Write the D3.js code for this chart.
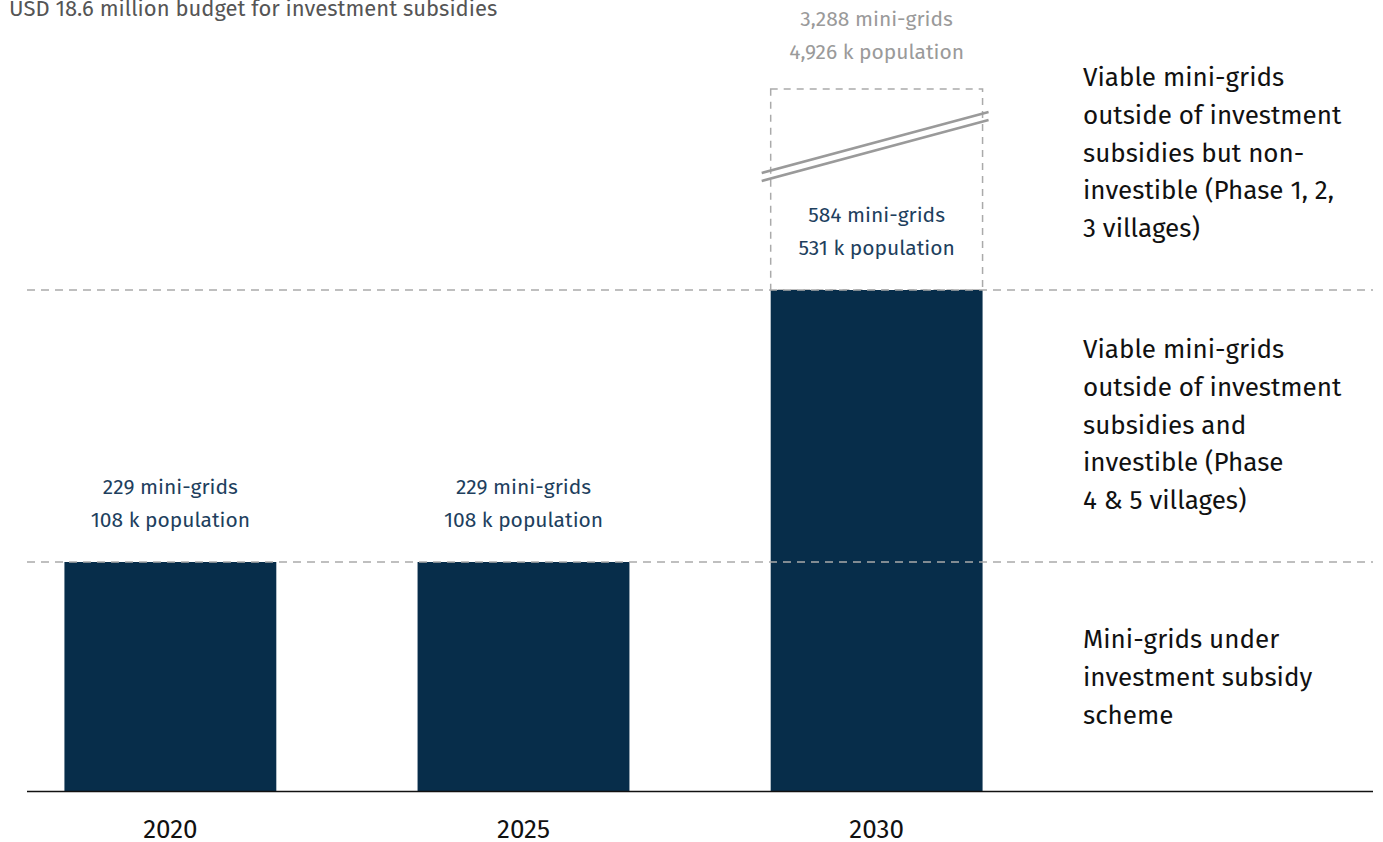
<!DOCTYPE html>
<html lang="en">
<head>
<meta charset="UTF-8">
<title>Mini-grids under investment subsidies</title>
<script src="https://d3js.org/d3.v7.min.js"></script>
<style>
  html, body { margin: 0; padding: 0; background: #fff; }
  svg { display: block; font-family: "Fira Sans", "Noto Sans", sans-serif; }
</style>
</head>
<body>
<svg id="chart" width="1383" height="842"></svg>
<script>
// data
const years = ["2020", "2025", "2030"];
const miniGrids = [229, 229, 584];
const population = [108, 108, 531];
const ghostMiniGrids = 3288;   // broken (off-scale) potential in 2030
const ghostPopulation = 4926;
const tierLevels = [229, 584];  // boundaries between the three groups
const tierLabels = [
  ["Viable mini-grids", "outside of investment", "subsidies but non-", "investible (Phase 1, 2,", "3 villages)"],
  ["Viable mini-grids", "outside of investment", "subsidies and", "investible (Phase", "4 & 5 villages)"],
  ["Mini-grids under", "investment subsidy", "scheme"]
];
const title = "USD 18.6 million budget for investment subsidies";

const svg = d3.select("#chart");
const fmt = d3.format(",");

const barColor = "#072d4a";
const labelBlue = "#1e3f5e";
const grey = "#9a9a9a";

// scales
const x = d3.scaleBand().domain(years).range([27, 1020]).paddingInner(0.4).paddingOuter(0.106);
// piecewise scale: the top segment is compressed (axis break)
const y = d3.scaleLinear().domain([0, 229, 584, 3288]).range([791, 562, 290, 89]);

// title (cut at the top edge)
svg.append("text")
  .attr("x", 9).attr("y", 16)
  .attr("font-size", 22).attr("fill", "#555")
  .text(title);

// ghost box for 2030
const last = years.length - 1;
svg.append("rect")
  .attr("x", x(years[last])).attr("y", y(ghostMiniGrids))
  .attr("width", x.bandwidth()).attr("height", y(miniGrids[last]) - y(ghostMiniGrids))
  .attr("fill", "none").attr("stroke", "#aaa").attr("stroke-width", 1.5)
  .attr("stroke-dasharray", "7,6");

// bars
svg.append("g").selectAll("rect")
  .data(years)
  .join("rect")
  .attr("x", d => x(d))
  .attr("y", (d, i) => y(miniGrids[i]))
  .attr("width", x.bandwidth())
  .attr("height", (d, i) => y(0) - y(miniGrids[i]))
  .attr("fill", barColor);

// baseline
svg.append("line")
  .attr("x1", 27).attr("x2", 1373)
  .attr("y1", y(0) + 0.5).attr("y2", y(0) + 0.5)
  .attr("stroke", "#111").attr("stroke-width", 1.5);

// tier separators
svg.append("g").selectAll("line")
  .data(tierLevels)
  .join("line")
  .attr("x1", 27).attr("x2", 1373)
  .attr("y1", d => y(d)).attr("y2", d => y(d))
  .attr("stroke", "#aaa").attr("stroke-width", 1.5)
  .attr("stroke-dasharray", "8,6");

// break marks on ghost box
const bx0 = x(years[last]) - 9, bx1 = x(years[last]) + x.bandwidth() + 6;
[0, 8].forEach(off => {
  svg.append("line")
    .attr("x1", bx0).attr("y1", 173 + off)
    .attr("x2", bx1).attr("y2", 112 + off)
    .attr("stroke", grey).attr("stroke-width", 2.5);
});

// value labels
const valLabels = svg.append("g").attr("text-anchor", "middle").attr("font-size", 21);
years.forEach((yr, i) => {
  const cx = x(yr) + x.bandwidth() / 2;
  const top = y(miniGrids[i]) - 68;
  valLabels.append("text").attr("x", cx).attr("y", top).attr("fill", labelBlue)
    .text(`${fmt(miniGrids[i])} mini-grids`);
  valLabels.append("text").attr("x", cx).attr("y", top + 33).attr("fill", labelBlue)
    .text(`${fmt(population[i])} k population`);
});
const gx = x(years[last]) + x.bandwidth() / 2;
valLabels.append("text").attr("x", gx).attr("y", 26).attr("fill", grey)
  .text(`${fmt(ghostMiniGrids)} mini-grids`);
valLabels.append("text").attr("x", gx).attr("y", 59).attr("fill", grey)
  .text(`${fmt(ghostPopulation)} k population`);

// year labels
svg.append("g").attr("text-anchor", "middle").attr("font-size", 26).attr("fill", "#111")
  .selectAll("text")
  .data(years)
  .join("text")
  .attr("x", d => x(d) + x.bandwidth() / 2)
  .attr("y", 838)
  .text(d => d);

// tier labels on the right
const tierY = [86, 358, 648];
const tierG = svg.append("g").attr("font-size", 26).attr("fill", "#111");
tierLabels.forEach((lines, k) => {
  lines.forEach((ln, j) => {
    tierG.append("text")
      .attr("x", 1083)
      .attr("y", tierY[k] + j * 37.8)
      .text(ln);
  });
});
</script>
</body>
</html>
